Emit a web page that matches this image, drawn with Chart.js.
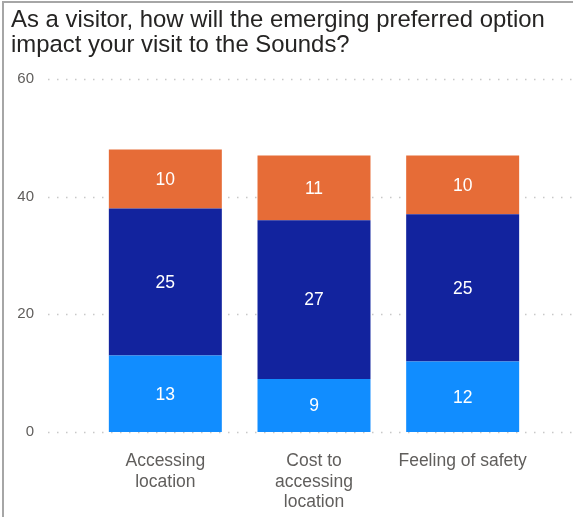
<!DOCTYPE html>
<html>
<head>
<meta charset="utf-8">
<script src="https://cdn.jsdelivr.net/npm/chart.js@4"></script>
<style>
  html, body { margin: 0; padding: 0; background: #fff; }
  #wrap { position: relative; width: 573px; height: 517px; overflow: hidden; }
  #frame { position: absolute; left: 2px; top: 1px; right: 0; bottom: 0;
           border-top: 2px solid #a6a6a6; border-left: 2px solid #a6a6a6; }
  #title { position: absolute; left: 11px; top: 6px; font-family: "Liberation Sans", Arial, sans-serif;
           font-size: 23.9px; line-height: 25px; color: #252423; white-space: nowrap; }
  canvas { position: absolute; left: 0; top: 0; }
</style>
</head>
<body>
<div id="wrap">
  <canvas id="chart" width="573" height="517"></canvas>
  <div id="frame"></div>
  <div id="title">As a visitor, how will the emerging preferred option<br>impact your visit to the Sounds?</div>
</div>
<script>
'use strict';

var categories = [['Accessing', 'location'], ['Cost to', 'accessing', 'location'], 'Feeling of safety'];
var seriesBottom = [13, 9, 12];
var seriesMiddle = [25, 27, 25];
var seriesTop = [10, 11, 10];
var yTicks = [0, 20, 40, 60];

var FONT = '"Liberation Sans", Arial, sans-serif';

/** 虚线网格，从 y 轴标签右侧一直延伸到画布右边 */
var dottedGrid = {
  id: 'dottedGrid',
  beforeDatasetsDraw: function (chart) {
    var ctx = chart.ctx;
    var y = chart.scales.y;
    ctx.save();
    ctx.strokeStyle = '#c8c8c8';
    ctx.lineWidth = 1.5;
    ctx.setLineDash([1.5, 7.5]);
    yTicks.forEach(function (v) {
      var py = Math.round(y.getPixelForValue(v)) + 0.5;
      ctx.beginPath();
      ctx.moveTo(48, py);
      ctx.lineTo(chart.width, py);
      ctx.stroke();
    });
    ctx.restore();
  }
};

/** 在每段柱子中间写数值 */
var segmentLabels = {
  id: 'segmentLabels',
  afterDatasetsDraw: function (chart) {
    var ctx = chart.ctx;
    ctx.save();
    ctx.fillStyle = '#ffffff';
    ctx.font = '17.5px ' + FONT;
    ctx.textAlign = 'center';
    ctx.textBaseline = 'middle';
    chart.data.datasets.forEach(function (ds, i) {
      chart.getDatasetMeta(i).data.forEach(function (bar, j) {
        var mid = (bar.y + bar.base) / 2;
        ctx.fillText(String(ds.data[j]), bar.x, mid + 1);
      });
    });
    ctx.restore();
  }
};

new Chart(document.getElementById('chart'), {
  type: 'bar',
  data: {
    labels: categories,
    datasets: [
      { data: seriesBottom, backgroundColor: '#118dff' },
      { data: seriesMiddle, backgroundColor: '#12239e' },
      { data: seriesTop, backgroundColor: '#e66c37' }
    ]
  },
  options: {
    responsive: false,
    animation: false,
    layout: { padding: { top: 79, right: 36, left: 0, bottom: 0 } },
    datasets: { bar: { barPercentage: 0.76, categoryPercentage: 1, borderWidth: 0 } },
    plugins: { legend: { display: false }, tooltip: { enabled: false }, title: { display: false } },
    scales: {
      x: {
        stacked: true,
        grid: { display: false },
        border: { display: false },
        ticks: { color: '#605e5c', font: { family: FONT, size: 17.5, lineHeight: 1.17 }, padding: 11, maxRotation: 0 },
        afterFit: function (s) { s.height = 85; }
      },
      y: {
        stacked: true,
        min: 0,
        max: 60,
        grid: { display: false },
        border: { display: false },
        ticks: { stepSize: 20, color: '#605e5c', font: { family: FONT, size: 15 }, padding: 49 },
        afterFit: function (s) { s.width = 91; }
      }
    }
  },
  plugins: [dottedGrid, segmentLabels]
});
</script>
</body>
</html>
